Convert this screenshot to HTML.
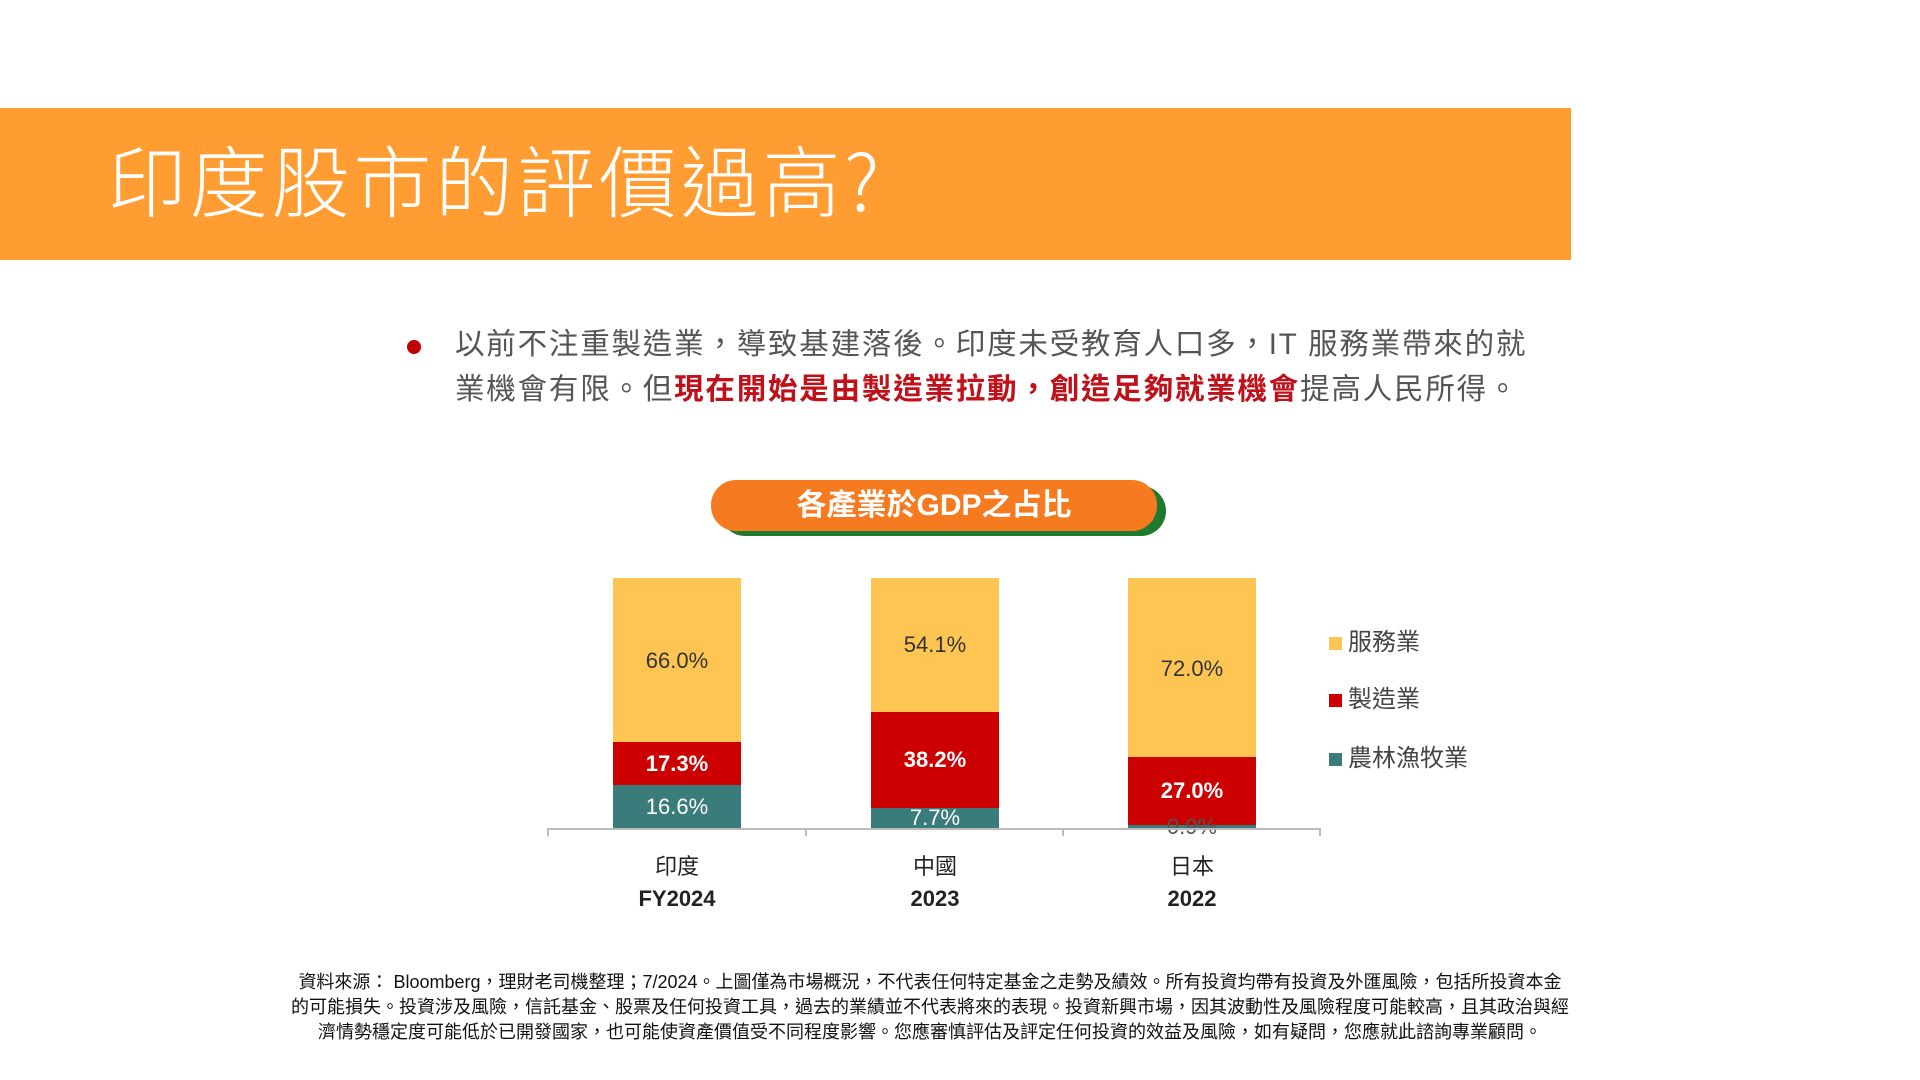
<!DOCTYPE html>
<html><head><meta charset="utf-8"><style>
*{margin:0;padding:0;box-sizing:border-box}
body{width:1920px;height:1080px;background:#fff;position:relative;overflow:hidden;font-family:"Liberation Sans","Noto Sans CJK TC",sans-serif}
.abs{position:absolute}
.bar{position:absolute;width:128px}
.v{position:absolute;width:128px;text-align:center;font-size:22px;line-height:22px;font-family:"Liberation Sans","Noto Sans CJK TC",sans-serif}
.lg{position:absolute;left:1329px;width:13px;height:13px}
.lt{position:absolute;left:1348px;font-size:24px;color:#444;line-height:30px}
.xl{position:absolute;width:200px;text-align:center;font-size:22px;color:#222}
</style></head><body>
<div class="abs" style="left:0;top:108px;width:1571px;height:152px;background:#FF9D33"></div>
<div class="abs" style="left:108px;top:128px;font-size:78px;line-height:100px;color:#fff;font-weight:300;letter-spacing:3.8px;font-family:'Noto Sans CJK TC','Noto Sans CJK SC',sans-serif">印度股市的評價過高?</div>

<div class="abs" style="left:407px;top:340px;width:14px;height:14px;border-radius:50%;background:#C00000"></div>
<div class="abs" style="left:455px;top:322px;font-size:29.5px;line-height:45px;color:#555;white-space:nowrap;letter-spacing:1.8px">以前不注重製造業，導致基建落後。印度未受教育人口多，IT 服務業帶來的就<br>業機會有限。但<b style="color:#C0101A">現在開始是由製造業拉動，創造足夠就業機會</b>提高人民所得。</div>

<div class="abs" style="left:720px;top:486px;width:446px;height:50px;border-radius:25px;background:#1E7A2E"></div>
<div class="abs" style="left:711px;top:480px;width:446px;height:51px;border-radius:25px;background:#F57A20;color:#fff;font-weight:bold;font-size:30px;line-height:51px;text-align:center">各產業於GDP之占比</div>

<!-- India -->
<div class="bar" style="left:613px;top:578px;height:165px;background:#FFC553"></div>
<div class="bar" style="left:613px;top:742px;height:44px;background:#CC0000"></div>
<div class="bar" style="left:613px;top:785px;height:43px;background:#3A7B7B"></div>
<div class="v" style="left:613px;top:650px;color:#333">66.0%</div>
<div class="v" style="left:613px;top:753px;color:#fff;font-weight:bold">17.3%</div>
<div class="v" style="left:613px;top:796px;color:#fff">16.6%</div>
<!-- China -->
<div class="bar" style="left:871px;top:578px;height:135px;background:#FFC553"></div>
<div class="bar" style="left:871px;top:712px;height:96px;background:#CC0000"></div>
<div class="bar" style="left:871px;top:808px;height:20px;background:#3A7B7B"></div>
<div class="v" style="left:871px;top:634px;color:#333">54.1%</div>
<div class="v" style="left:871px;top:749px;color:#fff;font-weight:bold">38.2%</div>
<div class="v" style="left:871px;top:807px;color:#fff">7.7%</div>
<!-- Japan -->
<div class="bar" style="left:1128px;top:578px;height:180px;background:#FFC553"></div>
<div class="bar" style="left:1128px;top:757px;height:68px;background:#CC0000"></div>
<div class="bar" style="left:1128px;top:825px;height:3px;background:#3A7B7B"></div>
<div class="v" style="left:1128px;top:658px;color:#333">72.0%</div>
<div class="v" style="left:1128px;top:780px;color:#fff;font-weight:bold">27.0%</div>
<div class="v" style="left:1128px;top:816px;color:#555">0.9%</div>

<div class="abs" style="left:547px;top:828px;width:774px;height:2px;background:#bbb"></div>
<div class="abs" style="left:547px;top:828px;width:2px;height:8px;background:#bbb"></div>
<div class="abs" style="left:805px;top:828px;width:2px;height:8px;background:#bbb"></div>
<div class="abs" style="left:1062px;top:828px;width:2px;height:8px;background:#bbb"></div>
<div class="abs" style="left:1319px;top:828px;width:2px;height:8px;background:#bbb"></div>

<div class="xl" style="left:577px;top:849px">印度</div>
<div class="xl" style="left:577px;top:886px;font-weight:bold">FY2024</div>
<div class="xl" style="left:835px;top:849px">中國</div>
<div class="xl" style="left:835px;top:886px;font-weight:bold">2023</div>
<div class="xl" style="left:1092px;top:849px">日本</div>
<div class="xl" style="left:1092px;top:886px;font-weight:bold">2022</div>

<div class="lg" style="top:637px;background:#FFC553"></div><div class="lt" style="top:628px">服務業</div>
<div class="lg" style="top:694px;background:#CC0000"></div><div class="lt" style="top:685px">製造業</div>
<div class="lg" style="top:753px;background:#3A7B7B"></div><div class="lt" style="top:744px">農林漁牧業</div>

<div class="abs" style="left:0;top:970px;width:1860px;text-align:center;font-size:18px;line-height:25px;color:#111;white-space:nowrap">資料來源： Bloomberg，理財老司機整理；7/2024。上圖僅為市場概況，不代表任何特定基金之走勢及績效。所有投資均帶有投資及外匯風險，包括所投資本金<br>的可能損失。投資涉及風險，信託基金、股票及任何投資工具，過去的業績並不代表將來的表現。投資新興市場，因其波動性及風險程度可能較高，且其政治與經<br>濟情勢穩定度可能低於已開發國家，也可能使資產價值受不同程度影響。您應審慎評估及評定任何投資的效益及風險，如有疑問，您應就此諮詢專業顧問。</div>
</body></html>
